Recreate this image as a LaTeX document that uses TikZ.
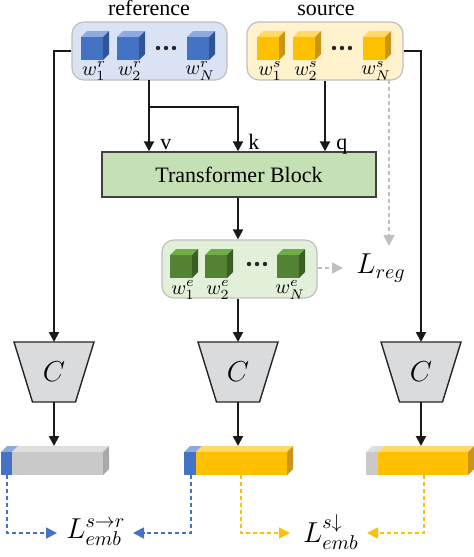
\documentclass[tikz,border=0pt]{standalone}
\usepackage{fontspec}
\setmainfont{Liberation Serif}
\usetikzlibrary{arrows.meta}
\definecolor{bF}{HTML}{4472C4}\definecolor{bT}{HTML}{8FAADC}\definecolor{bS}{HTML}{2F5597}
\definecolor{yF}{HTML}{FFC000}\definecolor{yT}{HTML}{FFD966}\definecolor{yS}{HTML}{C9961A}
\definecolor{gF}{HTML}{548235}\definecolor{gT}{HTML}{70AD47}\definecolor{gS}{HTML}{3A5E26}
\definecolor{kF}{HTML}{C9C9C9}\definecolor{kT}{HTML}{DEDEDE}\definecolor{kS}{HTML}{A8A8A8}
\definecolor{refbg}{HTML}{DAE3F3}\definecolor{srcbg}{HTML}{FFF2CC}\definecolor{embbg}{HTML}{E2F0D9}
\definecolor{tbbg}{HTML}{C5E0B4}\definecolor{trapbg}{HTML}{DADBDD}\definecolor{lgray}{HTML}{BFBFBF}
\newcommand{\cube}[5]{%
  \fill[#4] (#1,#2)--++(6,-6)--++(22,0)--++(-6,6)--cycle;
  \fill[#5] (#1+22,#2)--++(6,-6)--++(0,23)--++(-6,6)--cycle;
  \fill[#3] (#1,#2) rectangle ++(22,23);}
\newcommand{\embbar}[8]{%
  \fill[#5] (#1,452)--(#1+6,446)--(#2+6,446)--(#2,452)--cycle;
  \fill[#7] (#2,452)--(#2+6,446)--(#3+6,446)--(#3,452)--cycle;
  \fill[#8] (#3,452)--(#3+6,446)--(#3+6,469)--(#3,475)--cycle;
  \fill[#4] (#1,452) rectangle (#2,475);
  \fill[#6] (#2,452) rectangle (#3,475);}
\newcommand{\trap}[2]{%
  \draw[trapstyle] (#2-40,342)--(#2+40,342)--(#2+21.5,402)--(#2-21.5,402)--cycle;
  \node[font=\fontsize{14}{16}\selectfont] (#1) at (#2,372) {$C$};
  \coordinate (#1t) at (#2,342); \coordinate (#1b) at (#2,402);}
\newcommand{\threedots}[2]{%
  \fill[black!85] (#1-8,#2) circle (1.1pt) (#1,#2) circle (1.1pt) (#1+8,#2) circle (1.1pt);}
\begin{document}
\begin{tikzpicture}[x=0.5pt,y=-0.5pt,
  box/.style={draw=lgray, line width=0.6pt, rounded corners=6pt, inner sep=0pt},
  trapstyle/.style={draw=black!85, line width=0.7pt, fill=trapbg},
  arr/.style={draw=black!90, line width=1pt, -{Triangle[length=5pt,width=5pt]}},
  dsh/.style={line width=0.9pt, dash pattern=on 2pt off 1.5pt, -{Triangle[length=5.5pt,width=5.5pt]}},
  wl/.style={font=\fontsize{10}{11}\selectfont, inner sep=0pt},
  txt/.style={font=\fontsize{11}{13}\selectfont, inner sep=0pt},
  big/.style={font=\fontsize{14}{16}\selectfont, inner sep=0pt}]
\useasboundingbox (0,0) rectangle (474,557);
% boxes
\node[box, fill=refbg, minimum width=77.5pt, minimum height=29pt] (ref) at (149.5,51) {};
\node[box, fill=srcbg, minimum width=78pt, minimum height=29pt] (src) at (325,51) {};
\node[box, fill=embbg, minimum width=77.5pt, minimum height=29pt] (emb) at (239.5,269) {};
\node[draw=black!75, line width=0.7pt, fill=tbbg, minimum width=137pt, minimum height=22.5pt, txt] (tb) at (239,174.5) {Transformer Block};
\node[txt, anchor=base] (reflab) at (149,15) {reference};
\node[txt, anchor=base] (srclab) at (326,15) {source};
% cubes
\cube{81}{37}{bF}{bT}{bS}\cube{117}{37}{bF}{bT}{bS}\cube{187}{37}{bF}{bT}{bS}
\cube{257}{37}{yF}{yT}{yS}\cube{293}{37}{yF}{yT}{yS}\cube{363}{37}{yF}{yT}{yS}
\cube{170}{255}{gF}{gT}{gS}\cube{205}{255}{gF}{gT}{gS}\cube{277}{255}{gF}{gT}{gS}
\threedots{166}{48}\threedots{342}{48}\threedots{257}{264}
\node[wl] (wr1) at (94,71) {$w_1^r$};
\node[wl] (wr2) at (130,71) {$w_2^r$};
\node[wl] (wrN) at (200,71) {$w_N^r$};
\node[wl] (ws1) at (270,71) {$w_1^s$};
\node[wl] (ws2) at (306,71) {$w_2^s$};
\node[wl] (wsN) at (376,71) {$w_N^s$};
\node[wl] (we1) at (183,290) {$w_1^e$};
\node[wl] (we2) at (218,290) {$w_2^e$};
\node[wl] (weN) at (290,290) {$w_N^e$};
% trapezoids
\trap{C1}{54}\trap{C2}{238}\trap{C3}{421}
% bars
\embbar{1}{12}{103}{bF}{bT}{kF}{kT}{kS}
\embbar{184}{196}{287}{bF}{bT}{yF}{yT}{yS}
\embbar{366}{378}{468}{kF}{kT}{yF}{yT}{yS}
\coordinate (bar1) at (54,446);\coordinate (bar2) at (238,446);\coordinate (bar3) at (421,446);
% labels
\node[big] (Lreg) at (381,268) {$L_{reg}$};
\node[big] (Le1) at (96,532) {$L_{emb}^{s\rightarrow r}$};
\node[big] (Le2) at (331,532) {$L_{emb}^{s\downarrow}$};
% connectors
\draw[arr] (ref.west) -| (C1t);
\draw[arr] (src.east) -| (C3t);
\coordinate (rb) at (149,80); \coordinate (br) at (149,107);
\draw[arr] (rb) -- (rb |- tb.north);
\draw[arr] (br) -| (tb.north -| 238,0);
\draw[arr] (src.south) -- (src.south |- tb.north);
\node[txt, anchor=base west] (lv) at (160,149) {v};
\node[txt, anchor=base west] (lk) at (248,149) {k};
\node[txt, anchor=base west] (lq) at (336,149) {q};
\draw[arr] (tb.south -| 238,0) -- (emb.north -| 238,0);
\draw[arr] (emb.south -| 238,0) -- (C2t);
\draw[arr] (C1b) -- (bar1);\draw[arr] (C2b) -- (bar2);\draw[arr] (C3b) -- (bar3);
\coordinate (sN) at (389,80); \coordinate (regtop) at (389,246);
\draw[dsh, draw=lgray] (sN) -- (regtop);
\coordinate (regl) at (343,268);
\draw[dsh, draw=lgray] (emb.east |- regl) -- (regl);
\coordinate (d1) at (7,475);\coordinate (e1) at (57,533);
\coordinate (d2) at (191,475);\coordinate (e2) at (133,533);
\coordinate (d3) at (241,475);\coordinate (e3) at (290,533);
\coordinate (d4) at (424,475);\coordinate (e4) at (367,533);
\draw[dsh, draw=bF] (d1) |- (e1);
\draw[dsh, draw=bF] (d2) |- (e2);
\draw[dsh, draw=yF] (d3) |- (e3);
\draw[dsh, draw=yF] (d4) |- (e4);
\end{tikzpicture}
\end{document}
